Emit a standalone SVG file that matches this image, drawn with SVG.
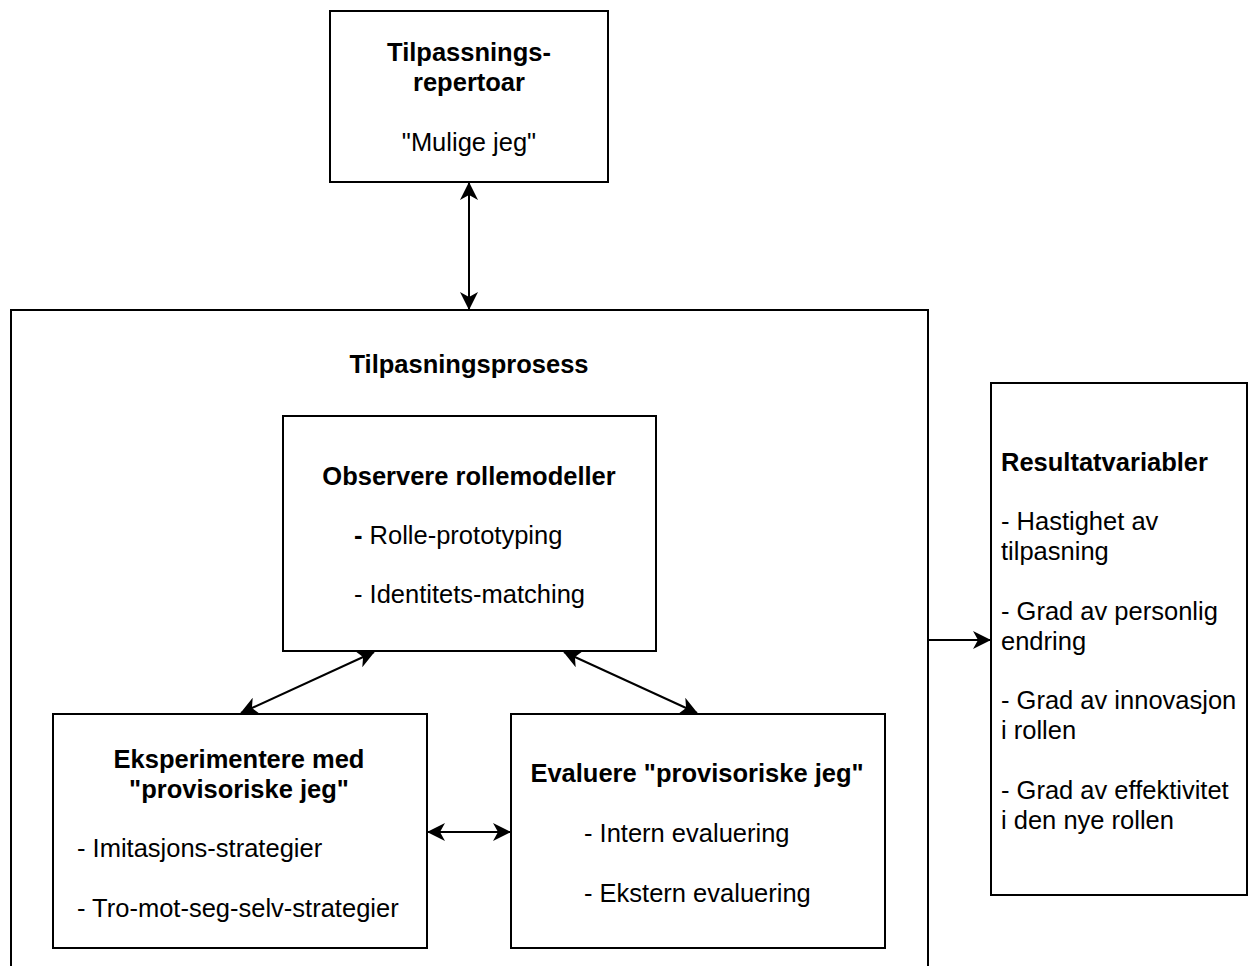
<svg xmlns="http://www.w3.org/2000/svg" width="1248" height="966" viewBox="0 0 1248 966">
<style>
.box{fill:#fff;stroke:#000;stroke-width:2}
.t{font-family:"Liberation Sans",Arial,sans-serif;font-size:25.5px;fill:#000}
.b{font-weight:bold}
.c{text-anchor:middle}
.ln{stroke:#000;stroke-width:2;fill:none;marker-start:url(#ah);marker-end:url(#ah)}
.ln1{stroke:#000;stroke-width:2;fill:none;marker-end:url(#ah)}
</style>
<defs>
<marker id="ah" viewBox="0 0 18 18" refX="17" refY="9" markerWidth="18" markerHeight="18" markerUnits="userSpaceOnUse" orient="auto-start-reverse">
<path d="M0,0 L18,9 L0,18 L5,9 Z" fill="#000"/>
</marker>
</defs>
<rect width="1248" height="966" fill="#fff"/>
<g id="big">
<rect class="box" x="11" y="310" width="917" height="680"/>
<text class="t b c" x="469" y="373">Tilpasningsprosess</text>
</g>
<g id="top">
<rect class="box" x="330" y="11" width="278" height="171"/>
<text class="t b c" x="469" y="61">Tilpassnings-</text>
<text class="t b c" x="469" y="91">repertoar</text>
<text class="t c" x="469" y="151">"Mulige jeg"</text>
</g>
<g id="observe">
<rect class="box" x="283" y="416" width="373" height="235"/>
<text class="t b c" x="469" y="485">Observere rollemodeller</text>
<text class="t" x="354" y="544"><tspan class="b">-</tspan> Rolle-prototyping</text>
<text class="t" x="354" y="603">- Identitets-matching</text>
</g>
<g id="eksp">
<rect class="box" x="53" y="714" width="374" height="234"/>
<text class="t b c" x="239" y="768">Eksperimentere med</text>
<text class="t b c" x="239" y="798">"provisoriske jeg"</text>
<text class="t" x="77" y="857">- Imitasjons-strategier</text>
<text class="t" x="77" y="917">- Tro-mot-seg-selv-strategier</text>
</g>
<g id="eval">
<rect class="box" x="511" y="714" width="374" height="234"/>
<text class="t b c" x="697" y="782">Evaluere "provisoriske jeg"</text>
<text class="t" x="584" y="842">- Intern evaluering</text>
<text class="t" x="584" y="902">- Ekstern evaluering</text>
</g>
<g id="result">
<rect class="box" x="991" y="383" width="256" height="512"/>
<text class="t b" x="1001" y="471">Resultatvariabler</text>
<text class="t" x="1001" y="530">- Hastighet av</text>
<text class="t" x="1001" y="560">tilpasning</text>
<text class="t" x="1001" y="620">- Grad av personlig</text>
<text class="t" x="1001" y="650">endring</text>
<text class="t" x="1001" y="709">- Grad av innovasjon</text>
<text class="t" x="1001" y="739">i rollen</text>
<text class="t" x="1001" y="799">- Grad av effektivitet</text>
<text class="t" x="1001" y="829">i den nye rollen</text>
</g>
<g id="connectors">
<line class="ln" x1="469" y1="183" x2="469" y2="309"/>
<line class="ln" x1="374" y1="652" x2="241" y2="713"/>
<line class="ln" x1="564" y1="652" x2="697" y2="713"/>
<line class="ln" x1="428" y1="832" x2="510" y2="832"/>
<line class="ln1" x1="929" y1="640" x2="990" y2="640"/>
</g>
</svg>
